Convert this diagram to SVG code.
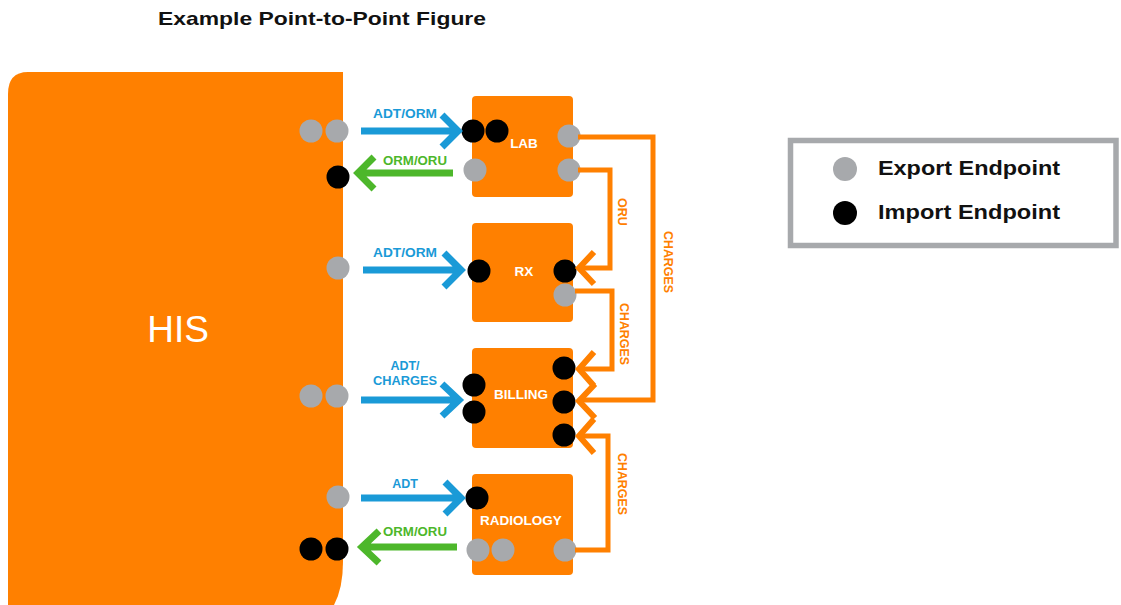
<svg xmlns="http://www.w3.org/2000/svg" width="1121" height="605" viewBox="0 0 1121 605">
<style>
.box{fill:#FF8000}
.exp{fill:#A7A9AC}
.imp{fill:#000}
.blue{stroke:#1A9AD7;stroke-width:7;fill:none}
.green{stroke:#4DB72B;stroke-width:7;fill:none}
.or{stroke:#FF8000;stroke-width:5;fill:none}
.orh{stroke:#FF8000;stroke-width:6;fill:none}
.lb{font-family:"Liberation Sans",Arial,sans-serif;font-weight:700;font-size:12.5px}
.bl{fill:#1A9AD7}
.gr{fill:#4DB72B}
.ol{fill:#FF8000}
.wt{fill:#fff;font-family:"Liberation Sans",Arial,sans-serif;font-weight:700;font-size:13.5px;text-anchor:middle}
.tt{font-family:"Liberation Sans",Arial,sans-serif;font-weight:700;fill:#111}
</style>
<rect width="1121" height="605" fill="#fff"/>
<text class="tt" x="158" y="25" font-size="19" textLength="328" lengthAdjust="spacingAndGlyphs">Example Point-to-Point Figure</text>

<g id="his">
<path class="box" d="M 28 72 H 343 V 562 Q 343 592 331 610 H 8 V 94 Q 8 72 28 72 Z"/>
<text x="178" y="342" fill="#fff" font-family="Liberation Sans, Arial, sans-serif" font-size="37" text-anchor="middle">HIS</text>
<circle class="exp" cx="311" cy="131" r="11.5"/>
<circle class="exp" cx="337" cy="131" r="11.5"/>
<circle class="imp" cx="338" cy="177" r="11.5"/>
<circle class="exp" cx="338" cy="268" r="11.5"/>
<circle class="exp" cx="311" cy="396" r="11.5"/>
<circle class="exp" cx="337" cy="396" r="11.5"/>
<circle class="exp" cx="338" cy="497" r="11.5"/>
<circle class="imp" cx="311" cy="549" r="11.5"/>
<circle class="imp" cx="337" cy="549" r="11.5"/>
</g>

<g id="lab">
<rect class="box" x="472" y="96" width="101" height="101" rx="4"/>
<text class="wt" x="524" y="148">LAB</text>
<circle class="imp" cx="473" cy="131" r="11.5"/>
<circle class="imp" cx="497" cy="131" r="11.5"/>
<circle class="exp" cx="475" cy="170" r="11.5"/>
<circle class="exp" cx="569" cy="136" r="11.5"/>
<circle class="exp" cx="569" cy="170" r="11.5"/>
</g>

<g id="rx">
<rect class="box" x="472" y="223" width="101" height="99" rx="4"/>
<text class="wt" x="524" y="276">RX</text>
<circle class="imp" cx="479" cy="271" r="11.5"/>
<circle class="imp" cx="565" cy="271" r="11.5"/>
<circle class="exp" cx="565" cy="295" r="11.5"/>
</g>

<g id="billing">
<rect class="box" x="472" y="348" width="101" height="100" rx="4"/>
<text class="wt" x="521" y="399">BILLING</text>
<circle class="imp" cx="474" cy="385" r="11.5"/>
<circle class="imp" cx="474" cy="412" r="11.5"/>
<circle class="imp" cx="564" cy="368" r="11.5"/>
<circle class="imp" cx="564" cy="402" r="11.5"/>
<circle class="imp" cx="564" cy="435" r="11.5"/>
</g>

<g id="radiology">
<rect class="box" x="472" y="474" width="101" height="101" rx="4"/>
<text class="wt" x="521" y="525">RADIOLOGY</text>
<circle class="imp" cx="477" cy="498" r="11.5"/>
<circle class="exp" cx="478" cy="550" r="11.5"/>
<circle class="exp" cx="503" cy="550" r="11.5"/>
<circle class="exp" cx="565" cy="550" r="11.5"/>
</g>

<g id="connectors">
<path class="blue" d="M 361 131 H 456 M 442 115 L 458 131 L 442 147"/>
<path class="green" d="M 453 173 H 360 M 374 157 L 358 173 L 374 189"/>
<path class="blue" d="M 363 270 H 460 M 444 253 L 461 270 L 444 287"/>
<path class="blue" d="M 361 400 H 458 M 442 384 L 459 400 L 442 416"/>
<path class="blue" d="M 361 498 H 459 M 445 482 L 461 498 L 445 514"/>
<path class="green" d="M 457 547 H 364 M 379 531 L 362 547 L 379 563"/>

<path class="or" d="M 578 137 H 653 V 400 H 582"/>
<path class="orh" d="M 595 384 L 579 401 L 595 418"/>
<path class="or" d="M 578 170 H 610 V 268 H 582"/>
<path class="orh" d="M 594 252 L 579 268 L 594 284"/>
<path class="or" d="M 575 291 H 612 V 369 H 582"/>
<path class="orh" d="M 594 352 L 579 369 L 594 386"/>
<path class="or" d="M 575 550 H 608 V 436 H 582"/>
<path class="orh" d="M 594 419 L 579 436 L 594 453"/>

<text class="lb bl" x="405" y="118" text-anchor="middle" textLength="64" lengthAdjust="spacingAndGlyphs">ADT/ORM</text>
<text class="lb gr" x="415" y="165" text-anchor="middle" textLength="64" lengthAdjust="spacingAndGlyphs">ORM/ORU</text>
<text class="lb bl" x="405" y="257" text-anchor="middle" textLength="64" lengthAdjust="spacingAndGlyphs">ADT/ORM</text>
<text class="lb bl" x="405" y="370" text-anchor="middle">ADT/</text>
<text class="lb bl" x="405" y="385" text-anchor="middle" textLength="64" lengthAdjust="spacingAndGlyphs">CHARGES</text>
<text class="lb bl" x="405" y="488" text-anchor="middle">ADT</text>
<text class="lb gr" x="415" y="536" text-anchor="middle" textLength="64" lengthAdjust="spacingAndGlyphs">ORM/ORU</text>

<text class="lb ol" transform="translate(618 212) rotate(90)" text-anchor="middle">ORU</text>
<text class="lb ol" transform="translate(664 262) rotate(90)" text-anchor="middle" textLength="62" lengthAdjust="spacingAndGlyphs">CHARGES</text>
<text class="lb ol" transform="translate(620 334) rotate(90)" text-anchor="middle" textLength="62" lengthAdjust="spacingAndGlyphs">CHARGES</text>
<text class="lb ol" transform="translate(618 484) rotate(90)" text-anchor="middle" textLength="62" lengthAdjust="spacingAndGlyphs">CHARGES</text>
</g>

<g id="legend">
<rect x="790.5" y="140.5" width="325.5" height="105" fill="#fff" stroke="#A7A9AC" stroke-width="5.5"/>
<circle class="exp" cx="845" cy="169" r="12"/>
<circle class="imp" cx="845" cy="213" r="12"/>
<text class="tt" x="878" y="175" font-size="20" textLength="182" lengthAdjust="spacingAndGlyphs">Export Endpoint</text>
<text class="tt" x="878" y="219" font-size="20" textLength="182" lengthAdjust="spacingAndGlyphs">Import Endpoint</text>
</g>
</svg>
